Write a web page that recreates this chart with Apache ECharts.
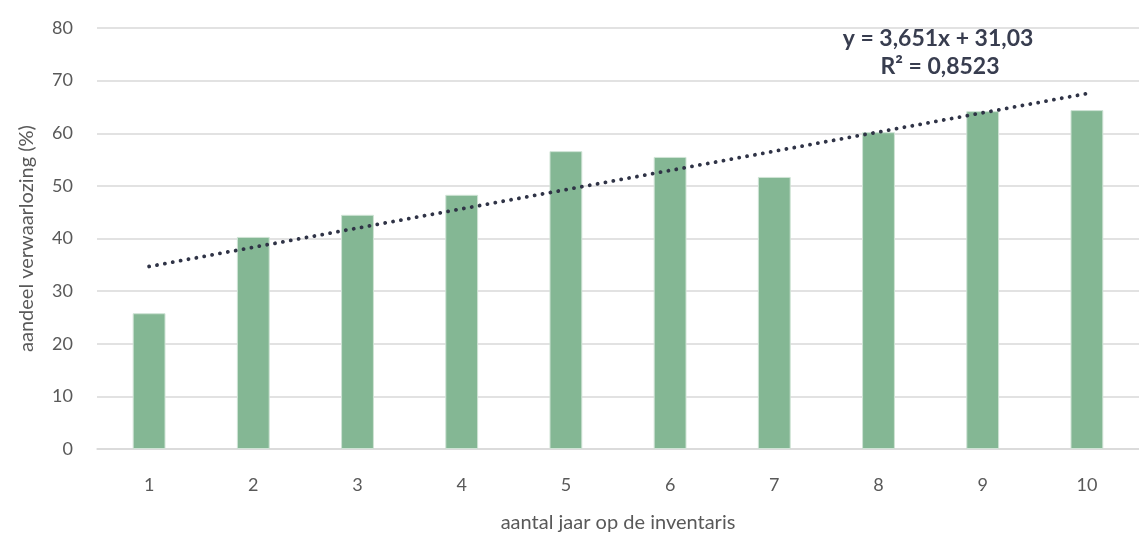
<!DOCTYPE html>
<html>
<head>
<meta charset="utf-8">
<script src="https://cdn.jsdelivr.net/npm/echarts@6/dist/echarts.min.js"></script>
<style>
  html, body { margin: 0; padding: 0; background: #ffffff; }
  #chart { width: 1139px; height: 538px; }
</style>
</head>
<body>
<div id="chart"></div>
<script>
// Years on the inventory and the share of neglect per year
const categories = ['1', '2', '3', '4', '5', '6', '7', '8', '9', '10'];
const shareValues = [25.8, 40.3, 44.5, 48.3, 56.6, 55.5, 51.7, 60.2, 64.2, 64.4];
const yTicks = [0, 10, 20, 30, 40, 50, 60, 70, 80];

// Linear trend as stated in the equation label
const trendSlope = 3.651;
const trendIntercept = 31.03;
const trendR2 = 0.8523;

const fmt = (v, d) => v.toFixed(d).replace('.', ',');
const trendValues = categories.map((c, i) => trendSlope * (i + 1) + trendIntercept);

const font = 'Lato, "Open Sans", sans-serif';
const chart = echarts.init(document.getElementById('chart'), null, { renderer: 'canvas' });

chart.setOption({
  animation: false,
  backgroundColor: '#ffffff',
  grid: { left: 97, top: 28, width: 1054, bottom: 87, containLabel: false },
  xAxis: {
    type: 'category',
    data: categories,
    name: 'aantal jaar op de inventaris',
    nameLocation: 'middle',
    nameGap: 64,
    nameTextStyle: { color: '#595959', fontSize: 20, fontFamily: font },
    axisLine: { show: true, lineStyle: { color: '#d9d9d9', width: 1.5 } },
    axisTick: { show: false },
    axisLabel: { color: '#595959', fontSize: 18, fontFamily: font, margin: 27 }
  },
  yAxis: {
    type: 'value',
    min: yTicks[0],
    max: yTicks[yTicks.length - 1],
    interval: 10,
    name: 'aandeel verwaarlozing (%)',
    nameLocation: 'middle',
    nameGap: 60,
    nameTextStyle: { color: '#595959', fontSize: 20, fontFamily: font },
    axisLine: { show: false },
    axisTick: { show: false },
    axisLabel: { color: '#595959', fontSize: 18, fontFamily: font, margin: 24 },
    splitLine: { lineStyle: { color: '#d9d9d9', width: 1.5 } }
  },
  series: [
    {
      type: 'bar',
      data: shareValues,
      barWidth: '31.5%',
      itemStyle: { color: '#84b794', borderColor: '#cfe3d5', borderWidth: 1 }
    },
    {
      type: 'line',
      data: trendValues,
      symbol: 'none',
      silent: true,
      z: 5,
      lineStyle: { color: '#2f3346', width: 3.8, type: [0.1, 7.9], cap: 'round' }
    }
  ],
  graphic: [
    {
      type: 'text',
      x: 938,
      y: 27,
      style: {
        text: 'y = ' + fmt(trendSlope, 3) + 'x + ' + fmt(trendIntercept, 2),
        align: 'center',
        verticalAlign: 'top',
        font: 'bold 23px ' + font,
        fill: '#383d4f'
      }
    },
    {
      type: 'text',
      x: 940,
      y: 55,
      style: {
        text: 'R² = ' + fmt(trendR2, 4),
        align: 'center',
        verticalAlign: 'top',
        font: 'bold 23px ' + font,
        fill: '#383d4f'
      }
    }
  ]
});
</script>
</body>
</html>
